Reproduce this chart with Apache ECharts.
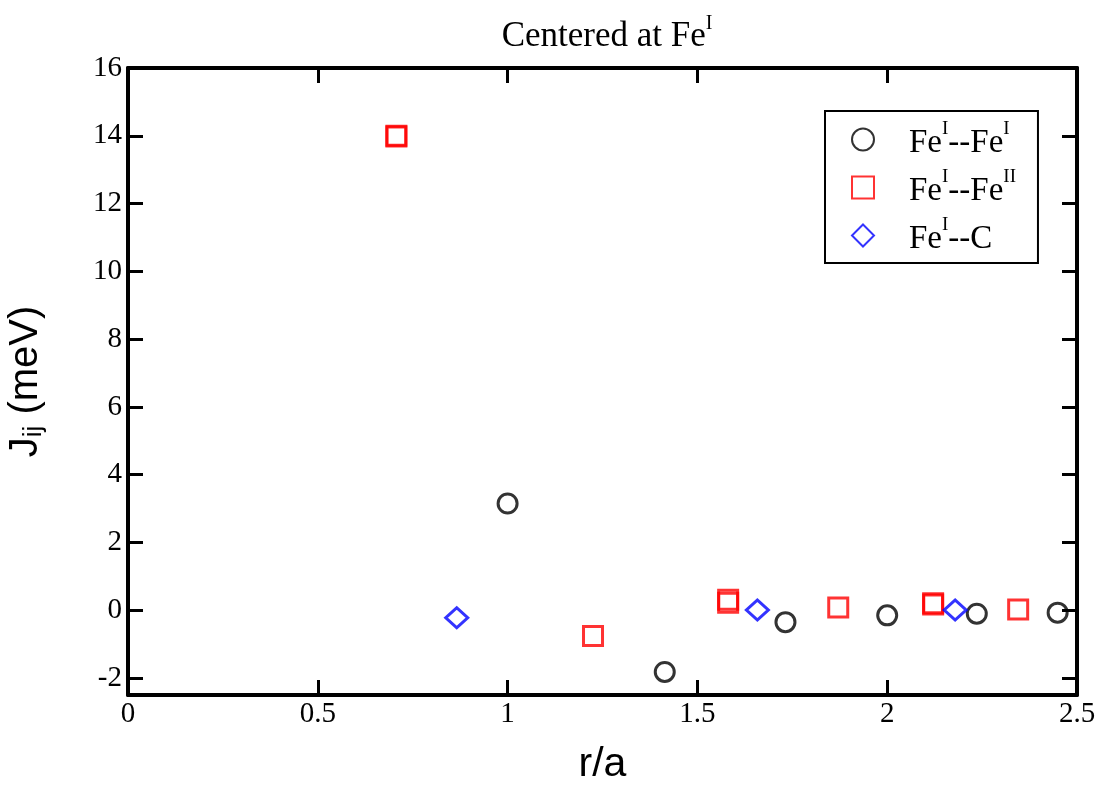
<!DOCTYPE html>
<html>
<head>
<meta charset="utf-8">
<script src="https://cdn.jsdelivr.net/npm/echarts@6/dist/echarts.min.js"></script>
<style>html,body{margin:0;padding:0;background:#fff}#c{width:1100px;height:789px}</style>
</head>
<body>
<div id="c"></div>
<script>
// Data
const xTicks = [0, 0.5, 1, 1.5, 2, 2.5];
const yTicks = [-2, 0, 2, 4, 6, 8, 10, 12, 14, 16];
const seriesNames = ['Fe^I--Fe^I', 'Fe^I--Fe^II', 'Fe^I--C'];
const feFeX = [1.0, 1.414, 1.732, 2.0, 2.236, 2.449];
const feFeY = [3.15, -1.82, -0.35, -0.15, -0.10, -0.07];
const feFe2X = [0.707, 0.707, 1.225, 1.581, 1.581, 1.871, 2.121, 2.121, 2.345];
const feFe2Y = [14.0, 13.98, -0.76, 0.22, 0.31, 0.08, 0.17, 0.21, 0.02];
const feCX = [0.866, 1.658, 2.179];
const feCY = [-0.22, 0.01, 0.01];

const zip = (xs, ys) => xs.map((x, i) => [x, ys[i]]);
const serif = 'Liberation Serif';
const sans = 'Liberation Sans';

const legendLabels = {
  'Fe^I--Fe^I': '{g|}{b|Fe}{s|I}{b|--Fe}{s|I}',
  'Fe^I--Fe^II': '{g|}{b|Fe}{s|I}{b|--Fe}{s|II}',
  'Fe^I--C': '{g|}{b|Fe}{s|I}{b|--C}'
};

const chart = echarts.init(document.getElementById('c'), null, {renderer: 'canvas'});
const lineStyle = {color: '#000', width: 4};
const tickStyle = {color: '#000', width: 3};
chart.setOption({
  animation: false,
  backgroundColor: '#fff',
  title: {
    text: '{a|Centered at Fe}{s|I}',
    left: 602, textAlign: 'center', top: 13,
    textStyle: {
      rich: {
        a: {fontFamily: serif, fontSize: 35, fontWeight: 'normal', color: '#000', lineHeight: 30, padding: [8, 0, 0, 0]},
        s: {fontFamily: serif, fontSize: 20, fontWeight: 'normal', color: '#000', lineHeight: 16, padding: [0, 0, 18, 0]}
      }
    }
  },
  grid: {left: 128, right: 23, top: 68, bottom: 94, outerBoundsMode: 'none', containLabel: false},
  legend: {
    orient: 'vertical',
    left: 825, top: 111,
    padding: [8, 22, 7, 26],
    itemGap: 7,
    itemWidth: 22, itemHeight: 22,
    borderColor: '#000', borderWidth: 2,
    data: seriesNames,
    formatter: n => legendLabels[n],
    textStyle: {
      rich: {
        g: {width: 30},
        b: {fontFamily: serif, fontSize: 33, color: '#000', lineHeight: 26, padding: [8, 0, 0, 0]},
        s: {fontFamily: serif, fontSize: 19, color: '#000', lineHeight: 14, padding: [0, 0, 20, 0]}
      }
    }
  },
  xAxis: [{
    type: 'value', min: 0, max: 2.5, interval: 0.5, position: 'bottom',
    axisLine: {show: true, onZero: false, lineStyle},
    axisTick: {show: true, inside: true, length: 15, lineStyle: tickStyle},
    splitLine: {show: false},
    name: 'r/a', nameLocation: 'middle', nameGap: 49,
    nameTextStyle: {fontFamily: sans, fontSize: 41, color: '#000'},
    axisLabel: {fontFamily: serif, fontSize: 29, color: '#000', margin: 5,
      formatter: v => xTicks.includes(v) ? String(v) : ''}
  }, {
    type: 'value', min: 0, max: 2.5, interval: 0.5, position: 'top',
    axisLine: {show: true, onZero: false, lineStyle},
    axisTick: {show: true, inside: true, length: 15, lineStyle: tickStyle},
    splitLine: {show: false},
    axisLabel: {show: false}
  }],
  yAxis: [{
    type: 'value', min: -2.5, max: 16, position: 'left',
    axisLine: {show: true, onZero: false, lineStyle},
    axisTick: {show: true, inside: true, length: 15, lineStyle: tickStyle, customValues: yTicks},
    splitLine: {show: false},
    name: '{j|J}{sub|ij}{j| (meV)}', nameLocation: 'middle', nameGap: 80, nameRotate: 90,
    nameTextStyle: {
      rich: {
        j: {fontFamily: sans, fontSize: 40, color: '#000', lineHeight: 44},
        sub: {fontFamily: sans, fontSize: 26, color: '#000', lineHeight: 44, padding: [16, 0, 0, 0]}
      }
    },
    axisLabel: {fontFamily: serif, fontSize: 29, color: '#000', margin: 6,
      customValues: yTicks,
      formatter: v => String(v)}
  }, {
    type: 'value', min: -2.5, max: 16, position: 'right',
    axisLine: {show: true, onZero: false, lineStyle},
    axisTick: {show: true, inside: true, length: 15, lineStyle: tickStyle, customValues: yTicks},
    splitLine: {show: false},
    axisLabel: {show: false}
  }],
  series: [{
    name: seriesNames[0], type: 'scatter',
    data: zip(feFeX, feFeY),
    symbol: 'circle', symbolSize: 19,
    itemStyle: {color: 'rgba(0,0,0,0)', borderColor: '#000', borderWidth: 3}
  }, {
    name: seriesNames[1], type: 'scatter',
    data: zip(feFe2X, feFe2Y),
    symbol: 'rect', symbolSize: 19,
    itemStyle: {color: 'rgba(0,0,0,0)', borderColor: '#ff0000', borderWidth: 3}
  }, {
    name: seriesNames[2], type: 'scatter',
    data: zip(feCX, feCY),
    symbol: 'diamond', symbolSize: [22, 20],
    itemStyle: {color: 'rgba(0,0,0,0)', borderColor: '#0000ff', borderWidth: 3}
  }]
});
</script>
</body>
</html>
